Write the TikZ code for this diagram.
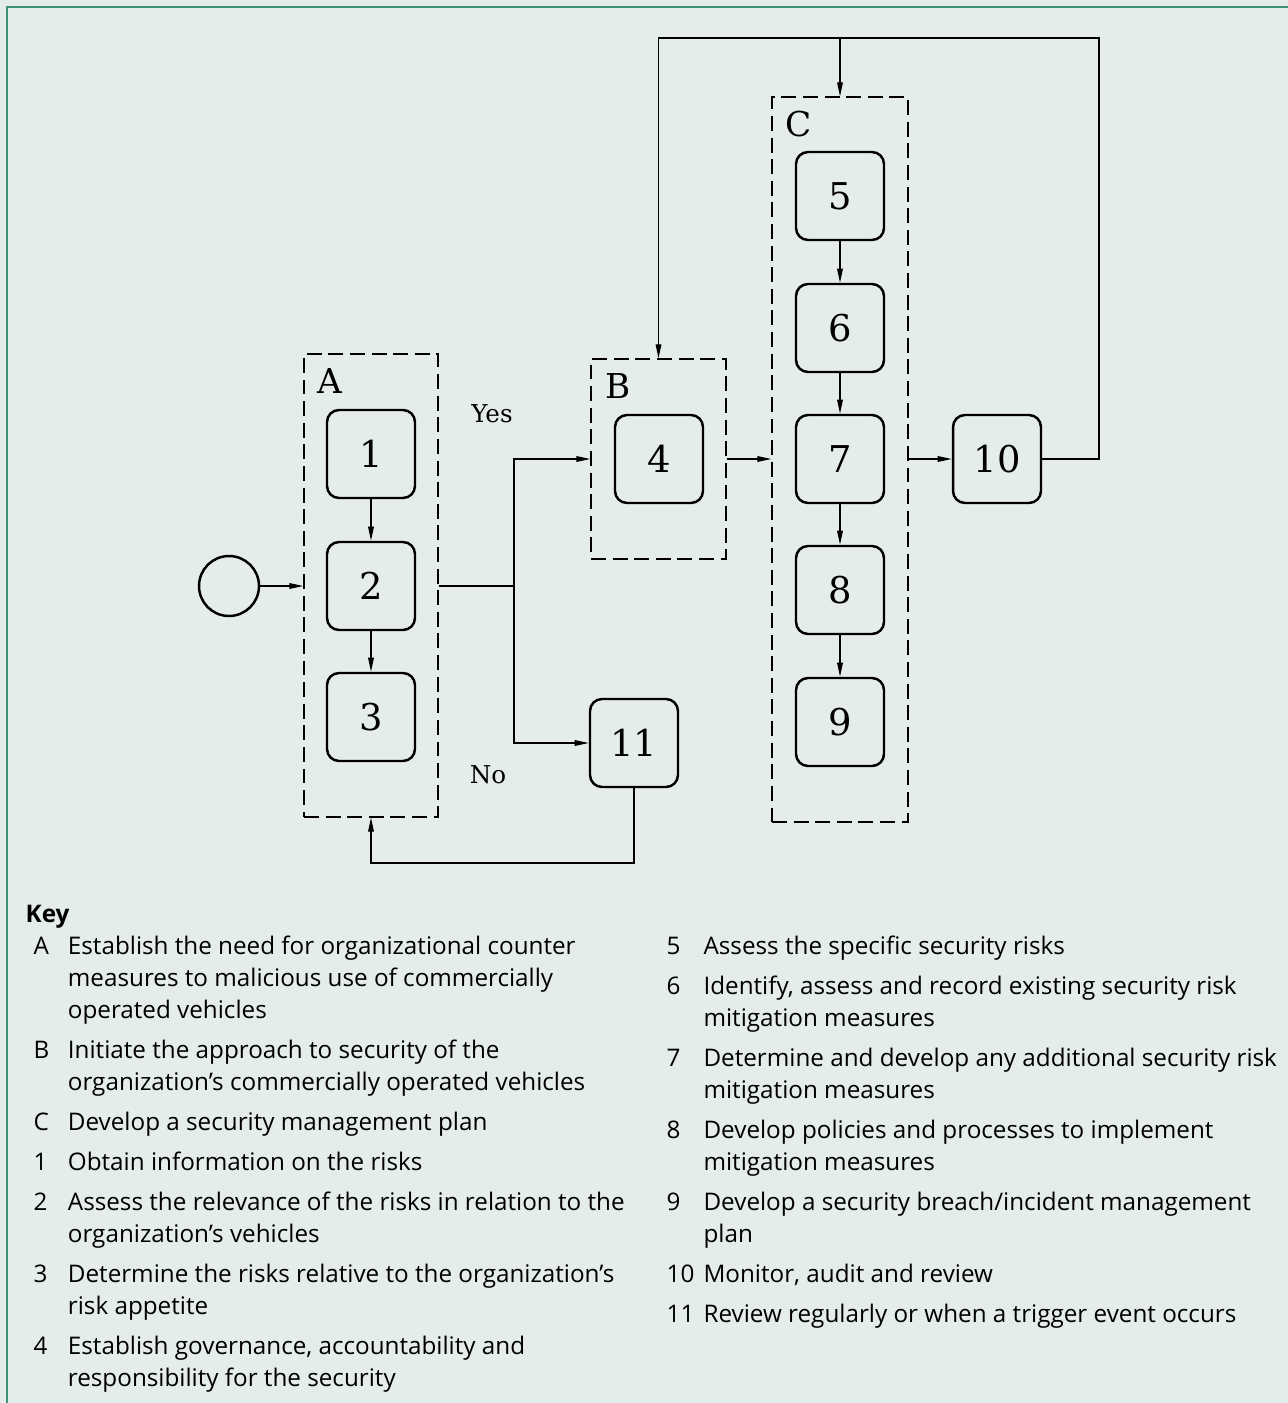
\documentclass[tikz,border=0pt]{standalone}
\usepackage{fontspec}
\setsansfont{Open Sans}
\newfontfamily\diagfont{DejaVu Serif}
\usepackage{tikz}
\usetikzlibrary{arrows.meta}
\definecolor{sfondo}{HTML}{E4EDEA}
\definecolor{bordo}{HTML}{3F8F7A}
\tikzset{
  passo/.style={draw, line width=1.4pt, rounded corners=0.24cm, minimum width=1.76cm, minimum height=1.76cm, inner sep=0pt, font=\diagfont\fontsize{21}{26}\selectfont},
  gruppo/.style={draw, line width=0.75pt, dash pattern=on 8.5pt off 3.8pt, inner sep=0pt},
  lettera/.style={font=\diagfont\fontsize{19.5}{24}\selectfont},
  sino/.style={font=\diagfont\fontsize{14}{18}\selectfont},
  legenda/.style={anchor=north west, inner sep=0pt, font=\sffamily\fontsize{13.8}{18.1}\selectfont}
}

\begin{document}
\begin{tikzpicture}[x=0.02cm, y=-0.02cm, >={Triangle[length=8pt, width=3.2pt]}, line width=0.75pt]
%SFONDO
\fill[sfondo] (0,0) rectangle (1288,1403);
\useasboundingbox (0,0) rectangle (1288,1403);
\draw[bordo, line width=1.7pt] (7,1403) -- (7,7) -- (1288,7);
%RIQUADRI
\node[gruppo, minimum width=2.68cm, minimum height=9.26cm] (A) at (371,585.5) {};
\node[gruppo, minimum width=2.7cm, minimum height=4cm] (B) at (658.5,459) {};
\node[gruppo, minimum width=2.72cm, minimum height=14.5cm] (C) at (840,459.5) {};
\node[lettera] (la) at (330,381) {A};
\node[lettera] (lb) at (618,386) {B};
\node[lettera] (lc) at (799,124) {C};
%NODI
\node[draw, circle, minimum size=1.2cm, line width=1.4pt] (inizio) at (229,586) {};
\node[passo] (n1) at (371,454) {1};
\node[passo] (n2) at (371,586) {2};
\node[passo] (n3) at (371,717) {3};
\node[passo] (n4) at (659,459) {4};
\node[passo] (n5) at (840,196) {5};
\node[passo] (n6) at (840,328) {6};
\node[passo] (n7) at (840,459) {7};
\node[passo] (n8) at (840,590) {8};
\node[passo] (n9) at (840,722) {9};
\node[passo] (n10) at (997,459) {10};
\node[passo] (n11) at (634,743) {11};
\node[sino] (si) at (492,414) {Yes};
\node[sino] (no) at (488,775) {No};
\coordinate (bivio) at (514,586);
\coordinate (sopra) at (1099,38);
\coordinate (sotto) at (371,863);
%FRECCE
\draw[->] (inizio) -- (inizio -| A.west);
\draw[->] (n1) -- (n2);
\draw[->] (n2) -- (n3);
\draw (A.east |- bivio) -- (bivio);
\draw[->] (bivio) |- (B.west);
\draw[->] (bivio) |- (n11);
\draw[->] (B.east) -- (C.west |- B.east);
\draw[->] (n5) -- (n6);
\draw[->] (n6) -- (n7);
\draw[->] (n7) -- (n8);
\draw[->] (n8) -- (n9);
\draw[->] (C.east |- n10) -- (n10);
\draw[->] (n10.east) -| (sopra) -| (B.north);
\draw[->] (C.north |- sopra) -- (C.north);
\draw[->] (n11.south) |- (sotto) -- (A.south);
%LEGENDA
\node[legenda, anchor=west] (key) at (25,917) {\bfseries Key};
\node[legenda] (colsx) at (33,932) {\begin{tabular}{@{}p{19.5pt}@{}l@{}}
A & Establish the need for organizational counter\\
 & measures to malicious use of commercially\\
 & operated vehicles\\[4.7pt]
B & Initiate the approach to security of the\\
 & organization’s commercially operated vehicles\\[4.7pt]
C & Develop a security management plan\\[4.7pt]
1 & Obtain information on the risks\\[4.7pt]
2 & Assess the relevance of the risks in relation to the\\
 & organization’s vehicles\\[4.7pt]
3 & Determine the risks relative to the organization’s\\
 & risk appetite\\[4.7pt]
4 & Establish governance, accountability and\\
 & responsibility for the security
\end{tabular}};
\node[legenda] (coldx) at (666,932) {\begin{tabular}{@{}p{21pt}@{}l@{}}
5 & Assess the specific security risks\\[4.7pt]
6 & Identify, assess and record existing security risk\\
 & mitigation measures\\[4.7pt]
7 & Determine and develop any additional security risk\\
 & mitigation measures\\[4.7pt]
8 & Develop policies and processes to implement\\
 & mitigation measures\\[4.7pt]
9 & Develop a security breach/incident management\\
 & plan\\[4.7pt]
10 & Monitor, audit and review\\[4.7pt]
11 & Review regularly or when a trigger event occurs
\end{tabular}};
\end{tikzpicture}
\end{document}
